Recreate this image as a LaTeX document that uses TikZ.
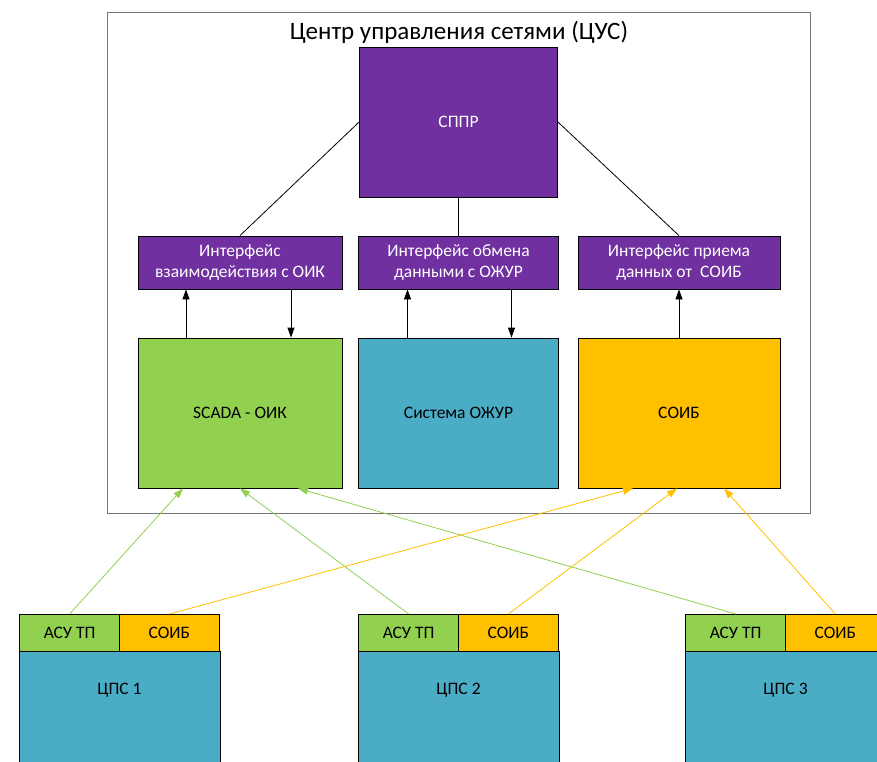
\documentclass[tikz,border=0pt]{standalone}
\usepackage{fontspec}
\setmainfont{Carlito}
\usetikzlibrary{arrows.meta}
\definecolor{cpurple}{HTML}{7030A0}
\definecolor{cgreen}{HTML}{92D050}
\definecolor{cblue}{HTML}{4BACC6}
\definecolor{corange}{HTML}{FFC000}
\begin{document}
\begin{tikzpicture}[x=1pt,y=-1pt,
  box/.style={draw=black,line width=0.8pt,rectangle,inner sep=2pt,align=center,
    font=\fontsize{17.5}{21}\selectfont},
  purplebox/.style={box,fill=cpurple,text=white},
  link/.style={draw=black,line width=0.8pt},
  arr/.style={line width=0.8pt,-{Triangle[length=10pt,width=7pt]}},
  garr/.style={arr,draw=cgreen},
  oarr/.style={arr,draw=corange}]
\useasboundingbox (0,0) rectangle (877,762);
\clip (0,0) rectangle (877,762);

% control centre frame
\node[draw=black!55,line width=1.2pt,rectangle,minimum width=703pt,minimum height=501pt,anchor=north west]
  (cus) at (107,12) {};
\node[font=\fontsize{25}{29}\selectfont] (title) at (459,32) {Центр управления сетями (ЦУС)};

% decision support system and its interfaces
\node[purplebox,minimum width=198pt,minimum height=150pt] (sppr) at (458.5,122) {СППР};
\node[purplebox,minimum width=204pt,minimum height=53pt] (if1) at (240,262.5) {Интерфейс\\взаимодействия с ОИК};
\node[purplebox,minimum width=200pt,minimum height=53pt] (if2) at (458.5,262.5) {Интерфейс обмена\\данными с ОЖУР};
\node[purplebox,minimum width=202pt,minimum height=53pt] (if3) at (679,262.5) {Интерфейс приема\\данных от\ \ СОИБ};

% subsystems
\node[box,fill=cgreen,minimum width=204pt,minimum height=150pt] (scada) at (240,413) {SCADA - ОИК};
\node[box,fill=cblue,minimum width=200pt,minimum height=150pt] (ozhur) at (458.5,413) {Система ОЖУР};
\node[box,fill=corange,minimum width=202pt,minimum height=150pt] (soib) at (679,413) {СОИБ};

\draw[link] (sppr.west) -- (if1.north);
\draw[link] (sppr.south) -- (if2.north);
\draw[link] (sppr.east) -- (if3.north);

\draw[arr] ([xshift=-54pt]scada.north) -- ([xshift=-54pt]if1.south);
\draw[arr] ([xshift=51pt]if1.south) -- ([xshift=51pt]scada.north);
\draw[arr] ([xshift=-51pt]ozhur.north) -- ([xshift=-51pt]if2.south);
\draw[arr] ([xshift=53pt]if2.south) -- ([xshift=53pt]ozhur.north);
\draw[arr] (soib.north) -- (if3.south);

% digital substations
\foreach \i/\x in {1/19,2/358,3/685}{
  \node[box,fill=cblue,minimum width=201pt,minimum height=160pt,anchor=north west] (c\i) at (\x,651) {};
  \node[box,fill=cgreen,minimum width=100.5pt,minimum height=37pt,anchor=north west] (a\i) at (\x,614) {АСУ ТП};
  \node[box,fill=corange,minimum width=100.5pt,minimum height=37pt,anchor=north east] (s\i) at (\x+201,614) {СОИБ};
  \node[font=\fontsize{17.5}{21}\selectfont] (t\i) at (\x+100.5,690) {ЦПС \i};
}

% data flows to the control centre
\draw[garr] (a1.north) -- ([xshift=-57pt]scada.south);
\draw[garr] (a2.north) -- ([xshift=0pt]scada.south);
\draw[garr] (a3.north) -- ([xshift=58pt]scada.south);
\draw[oarr] (s1.north) -- ([xshift=-46pt]soib.south);
\draw[oarr] (s2.north) -- ([xshift=-2pt]soib.south);
\draw[oarr] (s3.north) -- ([xshift=45pt]soib.south);
\end{tikzpicture}
\end{document}
